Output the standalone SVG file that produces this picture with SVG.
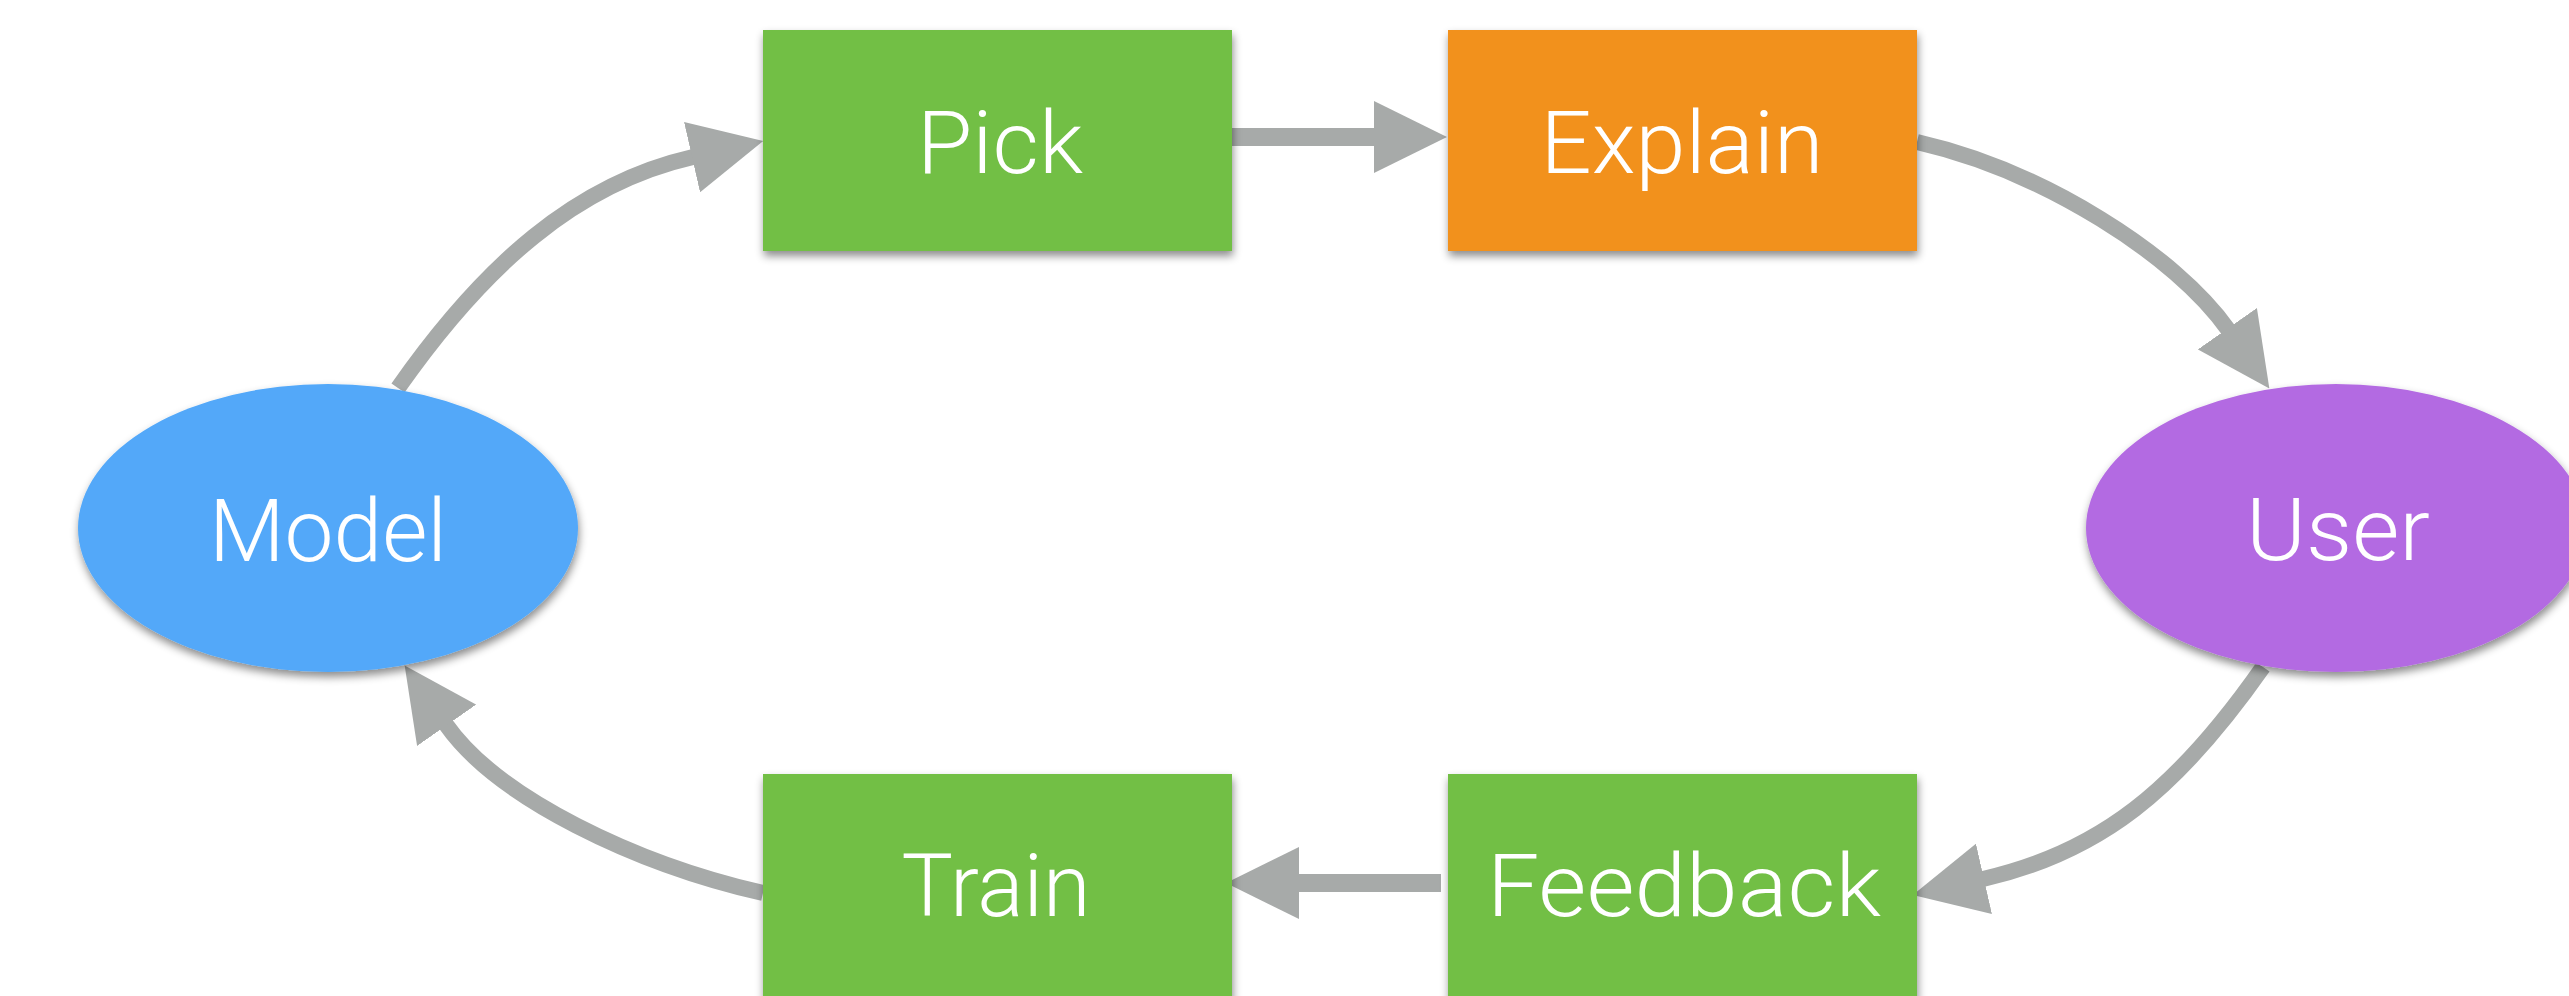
<svg xmlns="http://www.w3.org/2000/svg" width="2569" height="996" viewBox="0 0 2569 996">
<style>
.lbl{font-family:"Helvetica Neue",Roboto,"Liberation Sans",Arial,sans-serif;font-weight:300;font-size:87px;fill:#ffffff;text-anchor:middle}
.box{filter:url(#sh)}
.edge{fill:none;stroke:#a7aaa9;stroke-width:16;marker-end:url(#ah)}
.straight{stroke-width:18}
</style>
<defs>
<filter id="sh" x="-10%" y="-10%" width="120%" height="130%">
<feDropShadow dx="1" dy="5" stdDeviation="4" flood-color="#000" flood-opacity="0.45"/>
</filter>
<marker id="ah" markerUnits="userSpaceOnUse" viewBox="0 0 73 72" markerWidth="73" markerHeight="72" refX="1" refY="36" orient="auto">
<path d="M0,0 L73,36 L0,72 Z" fill="#a7aaa9"/>
</marker>
</defs>
<rect width="2569" height="996" fill="#ffffff"/>
<g id="connectors">
<path class="edge straight" d="M1232,137 H1375"/>
<path class="edge straight" d="M1441,883 H1298"/>
<path class="edge" d="M398,388 C484.1,265.2 576,183.6 693,157"/>
<path class="edge" d="M1917,142 C2043.8,170.9 2176.3,255.8 2228,329.5"/>
<path class="edge" d="M2263,667 C2177,789.9 2100,852.4 1983,879"/>
<path class="edge" d="M763,893 C636.3,864.1 497.7,798.2 446,724.5"/>
</g>
<g id="model">
<ellipse class="box" cx="328" cy="528" rx="250" ry="144" fill="#52a8f9"/>
<text class="lbl" x="328" y="561" textLength="238" lengthAdjust="spacingAndGlyphs">Model</text>
</g>
<g id="user">
<ellipse class="box" cx="2336" cy="528" rx="250" ry="144" fill="#b36be2"/>
<text class="lbl" x="2338" y="560" textLength="184" lengthAdjust="spacingAndGlyphs">User</text>
</g>
<g id="pick">
<rect class="box" x="763" y="30" width="469" height="221" fill="#72bf44"/>
<text class="lbl" x="1000" y="173" textLength="166" lengthAdjust="spacingAndGlyphs">Pick</text>
</g>
<g id="explain">
<rect class="box" x="1448" y="30" width="469" height="221" fill="#f2911c"/>
<text class="lbl" x="1682" y="173" textLength="283" lengthAdjust="spacingAndGlyphs">Explain</text>
</g>
<g id="train">
<rect class="box" x="763" y="774" width="469" height="230" fill="#72bf44"/>
<text class="lbl" x="996" y="916" textLength="189" lengthAdjust="spacingAndGlyphs">Train</text>
</g>
<g id="feedback">
<rect class="box" x="1448" y="774" width="469" height="230" fill="#72bf44"/>
<text class="lbl" x="1684" y="916" textLength="394" lengthAdjust="spacingAndGlyphs">Feedback</text>
</g>
</svg>
